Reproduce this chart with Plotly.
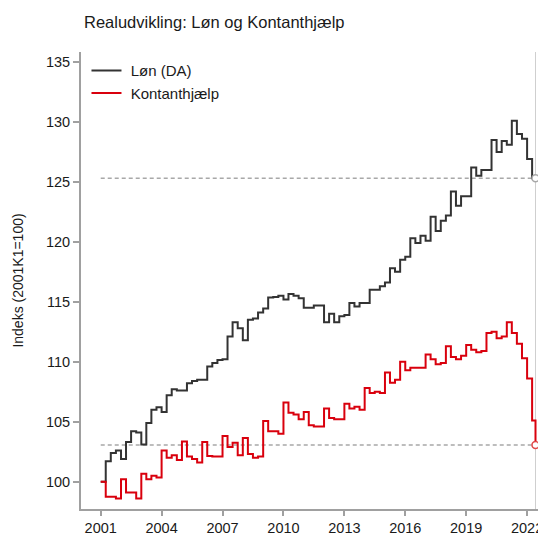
import plotly.graph_objects as go
import pandas as pd

# Quarterly observations 2001K1 .. 2022K2, plus the last (June 2022) observation
quarters = pd.date_range("2001-01-01", periods=86, freq="QS").strftime("%Y-%m-%d").tolist()
last_month = "2022-06-01"

loen = [100.0, 101.7, 102.4, 102.6, 101.9, 103.3, 104.2, 104.1, 103.1, 104.9,
        106.0, 106.2, 105.8, 107.2, 107.7, 107.6, 107.6, 108.2, 108.4, 108.5,
        108.5, 109.6, 109.9, 110.15, 110.2, 112.1, 113.3, 112.8, 111.8, 113.5,
        113.6, 114.1, 114.45, 115.35, 115.4, 115.5, 115.2, 115.65, 115.5, 115.3,
        114.5, 114.5, 114.7, 114.7, 113.3, 114.0, 113.3, 113.8, 113.9, 114.9,
        114.6, 114.9, 114.9, 116.0, 116.0, 116.3, 116.6, 117.8, 117.5, 118.5,
        118.75, 120.3, 119.9, 120.5, 120.1, 122.1, 120.9, 121.75, 122.2, 124.2,
        123.0, 123.8, 123.8, 126.2, 125.5, 126.0, 126.0, 128.5, 127.5, 128.4,
        128.1, 130.1, 129.0, 128.6, 126.9, 125.3]
kontant = [100.0, 98.75, 98.75, 98.6, 100.2, 99.1, 99.1, 98.6, 100.65, 100.2,
           100.5, 100.35, 102.6, 102.0, 102.2, 101.8, 103.35, 102.1, 101.9, 101.6,
           103.3, 102.15, 102.1, 102.1, 103.8, 102.9, 103.25, 102.2, 103.65, 102.3,
           102.0, 102.1, 105.05, 104.2, 104.2, 104.0, 106.6, 105.75, 105.6, 105.2,
           105.8, 104.7, 104.6, 104.6, 106.1, 105.3, 105.2, 105.2, 106.5, 106.1,
           106.25, 106.0, 107.8, 107.4, 107.5, 107.4, 109.1, 108.25, 108.5, 110.0,
           109.3, 109.5, 109.5, 109.5, 110.6, 110.2, 109.8, 109.9, 111.3, 110.4,
           110.2, 110.5, 111.4, 111.0, 110.8, 110.9, 112.4, 112.5, 111.95, 112.1,
           113.3, 112.4, 111.5, 110.3, 108.6, 105.1]
loen_last = 125.3
kontant_last = 103.05

tick_years = ["2001", "2004", "2007", "2010", "2013", "2016", "2019", "2022"]
y_ticks = [100, 105, 110, 115, 120, 125, 130, 135]

x = quarters + [last_month]
y_loen = loen + [loen_last]
y_kontant = kontant + [kontant_last]

FONT = "Liberation Sans, Arial, Helvetica, sans-serif"
AXIS_GRAY = "#a0a0a0"
TXT = "#1a1a1a"

fig = go.Figure()

# Reference lines at the final levels
for lvl in (loen_last, kontant_last):
    fig.add_trace(go.Scatter(
        x=[x[0], x[-1]], y=[lvl, lvl], mode="lines",
        line=dict(color="#a8a8a8", width=1.5, dash="4px,3px"),
        showlegend=False, hoverinfo="skip"))

fig.add_trace(go.Scatter(
    x=x, y=y_loen, mode="lines", line_shape="hv", name="\u00a0Løn (DA)",
    line=dict(color="#333333", width=2)))
fig.add_trace(go.Scatter(
    x=x, y=y_kontant, mode="lines", line_shape="hv", name="\u00a0Kontanthjælp",
    line=dict(color="#d9000d", width=2)))

# End markers
fig.add_trace(go.Scatter(
    x=[x[-1]], y=[loen_last], mode="markers", showlegend=False, hoverinfo="skip",
    marker=dict(symbol="circle", size=7, color="white",
                line=dict(color="#a8a8a8", width=1.5))))
fig.add_trace(go.Scatter(
    x=[x[-1]], y=[kontant_last], mode="markers", showlegend=False, hoverinfo="skip",
    marker=dict(symbol="circle", size=7, color="white",
                line=dict(color="#e04848", width=1.5))))

fig.add_shape(type="line", xref="x", yref="paper", x0=last_month, x1=last_month,
              y0=0, y1=1, line=dict(color="#cfcfcf", width=1), layer="below")

fig.update_layout(
    width=538, height=533,
    margin=dict(l=81, r=0, t=52, b=24, autoexpand=False),
    paper_bgcolor="white", plot_bgcolor="white",
    font=dict(family=FONT, size=14, color=TXT),
    title=dict(text="Realudvikling: Løn og Kontanthjælp", x=84 / 538, xref="container",
               xanchor="left", y=1 - 22 / 533, yref="container", yanchor="middle",
               font=dict(size=16.5, family=FONT, color=TXT)),
    legend=dict(x=0.012, y=0.995, xanchor="left", yanchor="top",
                bgcolor="rgba(0,0,0,0)", font=dict(size=15, family=FONT, color=TXT),
                tracegroupgap=0),
    showlegend=True,
)

fig.update_xaxes(
    type="date", range=["2000-01-12", "2022-07-16"],
    tickvals=[f"{yr}-01-01" for yr in tick_years], ticktext=tick_years,
    showgrid=False, zeroline=False, automargin=False,
    showline=True, linecolor=AXIS_GRAY, linewidth=2,
    ticks="outside", ticklen=5, tickcolor=AXIS_GRAY, tickwidth=1.5,
    tickfont=dict(size=14.5, family=FONT, color=TXT),
    ticklabeloverflow="allow", ticklabelstandoff=0,
)
fig.update_yaxes(
    range=[97.72, 135.83], tickvals=y_ticks,
    showgrid=False, zeroline=False, automargin=False,
    showline=True, linecolor=AXIS_GRAY, linewidth=2,
    ticks="outside", ticklen=6, tickcolor=AXIS_GRAY, tickwidth=1.5,
    tickfont=dict(size=14.5, family=FONT, color=TXT),
    title=dict(text="Indeks (2001K1=100)", standoff=19,
               font=dict(size=14, family=FONT, color=TXT)),
)

fig.write_html("out.html", config={"displayModeBar": False},
               post_script="document.body.style.margin='0';document.body.style.overflow='hidden';")
